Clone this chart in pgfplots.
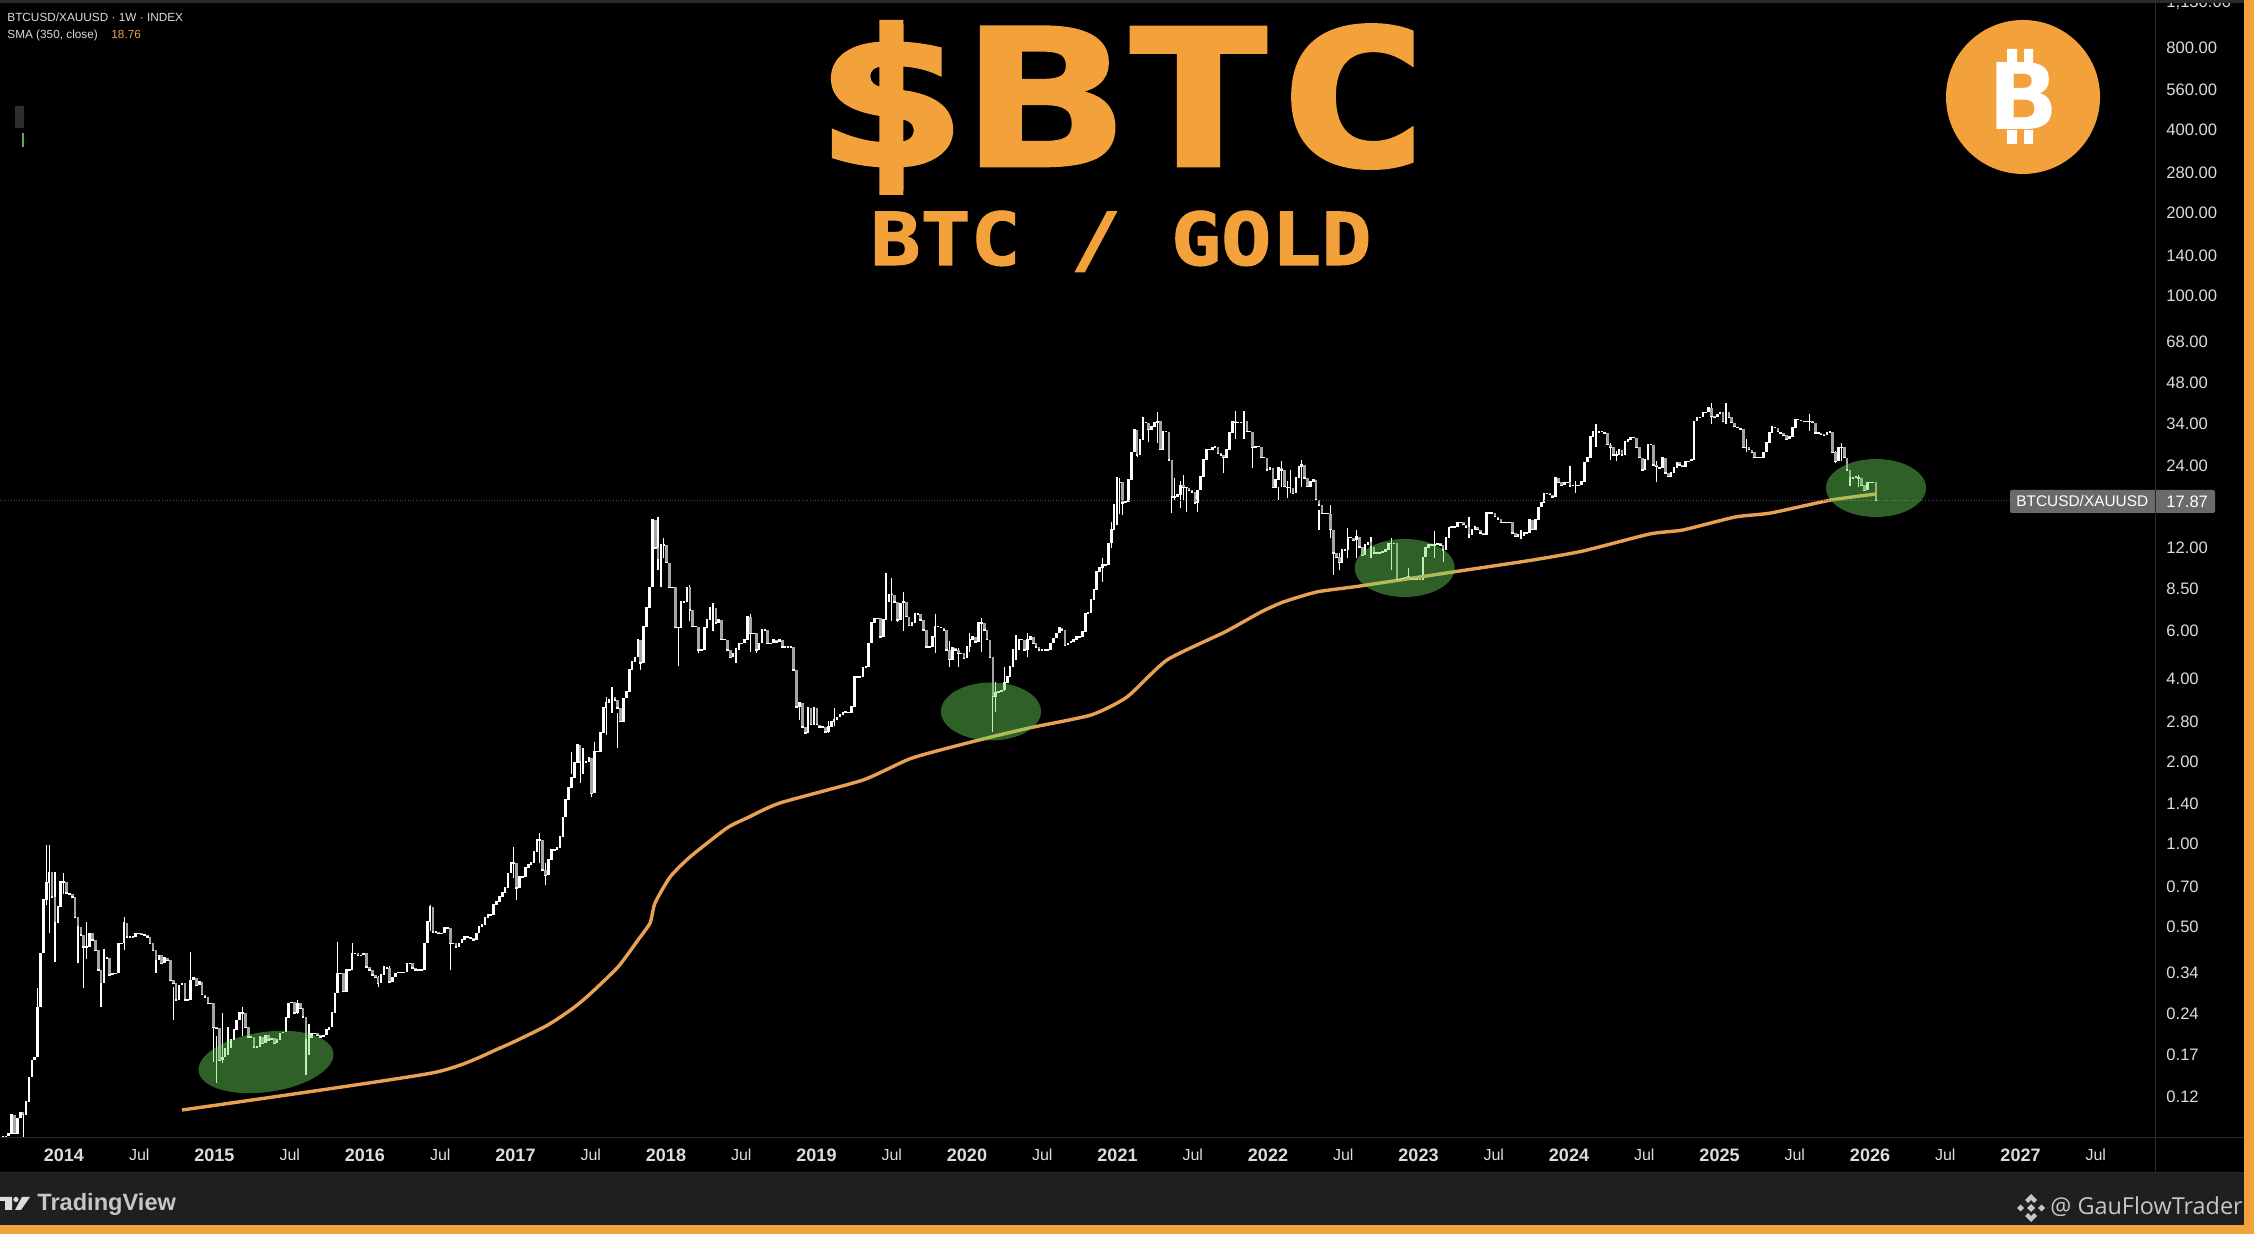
\documentclass[border=0pt]{standalone}
\usepackage{fontspec}
\usepackage{pgfplots}
\usepackage{pgfplotstable}
\pgfplotsset{compat=1.18}
\setmainfont{Liberation Sans}
\newfontfamily\djv{DejaVu Sans}
\newfontfamily\djmh[BoldFeatures={FakeBold=2.5}]{DejaVu Sans Mono}
\newfontfamily\djms[BoldFeatures={FakeBold=1.5}]{DejaVu Sans Mono}
\newfontfamily\opensans{Open Sans}
\definecolor{orangeb}{RGB}{242,161,59}
\definecolor{smaorange}{RGB}{232,160,84}
\definecolor{panel}{RGB}{30,31,31}
\definecolor{sep}{RGB}{42,42,42}
\definecolor{lab}{RGB}{220,220,220}
\definecolor{downc}{RGB}{165,165,165}
\definecolor{greenov}{RGB}{107,220,89}
\definecolor{tagc}{RGB}{106,106,106}
\newcommand\Y[1]{{\fontsize{9pt}{11pt}\selectfont\bfseries #1}}
\newcommand\J{{\fontsize{8pt}{10pt}\selectfont Jul}}

% weekly closes, 13 weeks on each line
\pgfplotstableread[row sep=\\]{
c\\
0.086\\0.086\\0.088\\0.103\\0.088\\0.100\\0.105\\0.103\\0.115\\0.141\\0.163\\0.167\\0.254\\
0.400\\0.625\\0.721\\0.790\\0.641\\0.515\\0.589\\0.727\\0.727\\0.663\\0.657\\0.641\\0.541\\
0.498\\0.466\\0.421\\0.421\\0.473\\0.447\\0.410\\0.347\\0.311\\0.384\\0.384\\0.333\\0.338\\
0.338\\0.435\\0.435\\0.515\\0.458\\0.458\\0.458\\0.473\\0.473\\0.469\\0.466\\0.458\\0.435\\
0.410\\0.377\\0.393\\0.367\\0.384\\0.377\\0.319\\0.311\\0.270\\0.305\\0.311\\0.270\\0.270\\
0.319\\0.325\\0.305\\0.314\\0.282\\0.277\\0.263\\0.263\\0.215\\0.213\\0.163\\0.167\\0.180\\
0.180\\0.193\\0.210\\0.228\\0.242\\0.242\\0.215\\0.198\\0.198\\0.182\\0.182\\0.198\\0.188\\
0.201\\0.193\\0.196\\0.188\\0.193\\0.204\\0.206\\0.232\\0.263\\0.265\\0.242\\0.263\\0.252\\
0.234\\0.193\\0.196\\0.204\\0.204\\0.201\\0.198\\0.201\\0.210\\0.215\\0.242\\0.286\\0.338\\
0.338\\0.289\\0.347\\0.347\\0.400\\0.400\\0.393\\0.393\\0.400\\0.356\\0.347\\0.333\\0.327\\
0.311\\0.333\\0.356\\0.353\\0.314\\0.327\\0.338\\0.341\\0.341\\0.341\\0.367\\0.367\\0.353\\
0.347\\0.347\\0.347\\0.435\\0.520\\0.589\\0.478\\0.478\\0.473\\0.473\\0.494\\0.494\\0.435\\
0.435\\0.421\\0.435\\0.447\\0.458\\0.458\\0.454\\0.447\\0.473\\0.498\\0.507\\0.537\\0.551\\
0.551\\0.599\\0.617\\0.641\\0.663\\0.691\\0.783\\0.852\\0.852\\0.691\\0.758\\0.758\\0.817\\
0.838\\0.852\\0.935\\1.034\\1.034\\0.804\\0.770\\0.874\\0.951\\0.951\\0.967\\1.06\\1.25\\
1.447\\1.60\\1.74\\1.98\\2.30\\1.99\\1.99\\1.99\\2.06\\1.53\\2.17\\2.17\\2.54\\
3.13\\3.27\\3.35\\3.44\\3.35\\3.13\\2.79\\3.40\\3.58\\4.31\\4.61\\4.80\\5.55\\
4.57\\6.19\\7.25\\8.62\\15.2\\12.0\\10.86\\12.3\\12.3\\10.6\\8.62\\8.62\\6.15\\
6.15\\7.62\\7.62\\8.62\\7.13\\6.19\\6.19\\5.10\\5.10\\6.15\\6.56\\7.25\\7.25\\
6.39\\6.56\\5.55\\5.55\\5.10\\4.80\\4.96\\5.10\\5.40\\5.40\\5.55\\6.73\\5.87\\
5.87\\5.10\\5.40\\6.03\\6.03\\5.40\\5.40\\5.55\\5.45\\5.55\\5.23\\5.23\\5.23\\
5.23\\4.31\\3.16\\3.27\\2.67\\2.54\\3.13\\2.72\\3.13\\2.72\\2.67\\2.67\\2.56\\
2.67\\2.79\\2.83\\2.90\\2.96\\3.01\\3.03\\3.01\\3.16\\4.06\\4.06\\4.06\\4.39\\
4.42\\5.40\\6.39\\6.66\\6.66\\5.68\\6.56\\7.62\\8.10\\8.10\\7.62\\6.56\\7.55\\
7.62\\6.73\\6.26\\6.39\\6.90\\6.90\\6.56\\6.03\\5.23\\5.23\\5.68\\6.19\\6.19\\
6.15\\6.03\\5.10\\4.69\\5.18\\5.10\\4.96\\4.96\\4.75\\5.23\\5.55\\5.68\\5.45\\
6.39\\6.39\\6.03\\5.55\\4.80\\3.44\\3.55\\3.58\\3.64\\3.87\\4.06\\4.42\\5.10\\
5.10\\5.55\\5.55\\5.10\\5.55\\5.68\\5.40\\5.23\\5.10\\5.10\\5.10\\5.10\\5.40\\
5.63\\5.87\\6.15\\6.03\\5.31\\5.40\\5.45\\5.55\\5.68\\5.68\\5.94\\6.90\\6.98\\
7.76\\8.44\\9.81\\10.15\\10.40\\10.40\\12.5\\13.97\\17.2\\20.8\\20.8\\17.5\\17.7\\
21.3\\26.8\\32.4\\26.2\\29.7\\34.3\\34.3\\32.4\\33.2\\34.3\\34.7\\27.4\\31.8\\
31.8\\25.1\\18.4\\18.4\\18.8\\20.3\\19.9\\19.9\\19.5\\19.2\\17.5\\19.5\\21.8\\
25.1\\27.4\\27.4\\27.9\\28.1\\26.6\\26.2\\25.6\\27.4\\31.5\\34.7\\34.3\\34.3\\
34.3\\34.7\\31.8\\31.8\\27.9\\28.1\\28.1\\25.6\\25.6\\23.1\\23.5\\19.9\\21.3\\
23.5\\23.1\\20.1\\19.9\\19.9\\19.0\\21.6\\23.7\\24.1\\21.6\\20.1\\20.9\\21.3\\
17.97\\17.2\\16.0\\16.0\\16.0\\14.0\\11.5\\11.1\\10.6\\11.8\\11.8\\13.1\\13.1\\
12.8\\13.2\\12.1\\11.3\\12.3\\12.6\\12.1\\11.5\\11.5\\11.5\\11.6\\11.8\\12.5\\
12.5\\12.5\\9.18\\9.18\\9.26\\9.34\\9.42\\9.26\\9.18\\9.18\\9.18\\11.1\\12.0\\
12.3\\12.3\\12.3\\12.5\\12.3\\11.8\\13.1\\14.2\\14.3\\14.3\\14.9\\14.9\\14.6\\
14.3\\13.4\\14.0\\14.3\\14.0\\13.6\\13.4\\16.1\\16.1\\16.1\\15.6\\15.3\\14.9\\
14.9\\14.9\\14.9\\13.6\\13.2\\13.4\\13.3\\13.6\\13.6\\15.2\\14.0\\15.2\\16.9\\
17.5\\19.0\\19.0\\18.8\\18.4\\21.6\\20.8\\20.3\\20.8\\20.8\\20.3\\20.3\\20.3\\
20.3\\20.9\\24.6\\25.6\\30.5\\31.8\\31.5\\31.8\\31.8\\31.5\\28.6\\27.9\\26.2\\
26.2\\27.4\\26.2\\29.2\\29.7\\30.3\\30.3\\27.9\\25.6\\23.1\\25.1\\28.6\\28.6\\
24.1\\23.7\\23.5\\25.6\\22.5\\21.8\\22.5\\23.5\\24.6\\24.1\\23.7\\24.8\\24.8\\
25.1\\34.7\\36.0\\36.0\\37.5\\37.5\\39.0\\36.3\\36.0\\36.8\\37.5\\34.7\\37.5\\
36.0\\34.3\\33.2\\32.9\\32.6\\27.9\\27.9\\27.4\\26.8\\25.6\\25.6\\25.6\\26.8\\
29.0\\31.5\\33.2\\32.9\\31.8\\31.5\\30.9\\29.9\\30.5\\32.9\\35.2\\35.2\\34.9\\
34.7\\34.7\\34.7\\34.3\\31.5\\31.5\\31.2\\30.9\\31.5\\31.8\\26.8\\24.8\\27.9\\
27.9\\25.6\\23.1\\21.6\\21.6\\21.8\\21.6\\20.3\\19.5\\20.8\\20.8\\20.8\\17.87\\
}\bars
\gdef\prevc{0.086}
\pgfplotstablecreatecol[create col/assign/.code={%
  \pgfkeyslet{/pgfplots/table/create col/next content}\prevc
  \getthisrow{c}{\cur}\global\let\prevc\cur}]{o}\bars

% long wicks: week number, low, high
\pgfplotstableread{
i l h
7 0.085 0.103
12 0.17 0.298
15 0.6 0.992
16 0.473 0.992
18 0.37 0.79
21 0.66 0.784
26 0.367 0.5
28 0.298 0.42
29 0.38 0.52
34 0.254 0.33
35 0.35 0.414
42 0.41 0.541
53 0.338 0.39
59 0.228 0.3
65 0.3 0.404
73 0.16 0.244
74 0.135 0.2
76 0.159 0.242
78 0.17 0.215
83 0.2 0.254
102 0.24 0.27
105 0.144 0.22
106 0.17 0.22
116 0.3 0.44
121 0.36 0.435
130 0.30 0.33
134 0.311 0.36
148 0.48 0.599
155 0.347 0.45
177 0.75 0.975
178 0.625 0.72
186 0.85 1.10
188 0.71 0.85
197 1.8 2.17
200 1.67 2.1
201 1.8 2.24
204 1.48 1.9
205 1.8 2.35
209 2.5 3.44
211 3.0 3.73
213 2.24 3.0
221 4.31 5.5
227 10 15.6
228 8.62 11
229 11 13.0
234 4.47 6.2
238 6.5 8.8
241 4.96 6
246 6 7.55
254 4.57 5.2
259 5 6.9
261 4.96 5.5
276 2.83 3.3
286 2.54 2.8
288 2.7 3.13
306 7 9.74
308 6.5 9.3
310 6.46 7.5
312 6 8.3
323 4.96 6.9
328 4.42 5.5
331 4.42 5.2
335 5 5.87
339 5 6.66
343 2.56 3.6
344 3.03 3.9
347 3.6 4.42
351 4.7 5.78
355 4.8 5.87
381 9 11.0
384 12 14.9
386 14.6 21.8
387 16 21.6
388 15.8 18.5
393 25.8 31
395 30 36
397 29.2 34
400 29 37.5
405 16.1 20
406 18 21.6
408 16.8 21
409 18 22.2
410 16.2 20
414 16.2 18
423 22.5 26
427 30 37.8
430 30 37.8
433 23.5 28
442 18 20
443 20 24.8
445 18.2 21
446 19 23.1
450 20 25.1
456 14 16.5
460 13 17.2
461 9.6 12
463 10 11.5
466 11 14.2
469 11 14
474 11 13.2
481 10 13.1
487 9.2 10.15
496 11 13.8
499 10.7 11.8
508 13 15.5
526 12.9 14
543 20 23.9
545 19 21
552 28 33.9
557 25.1 29
559 24.8 27
573 20.9 25
592 34 40.6
597 34 40.6
604 26.8 30
626 32 37
635 24.5 27
637 25 29
640 20.2 23
643 20 22.2
}\wicks

\pgfplotstableread{
x v
2014.784 0.1072
2016.445 0.1463
2016.897 0.1804
2017.203 0.2170
2017.375 0.2503
2017.488 0.2815
2017.681 0.3561
2017.814 0.4467
2017.894 0.5152
2017.927 0.6093
2018.027 0.758
2018.159 0.8966
2018.405 1.144
2018.538 1.244
2018.757 1.411
2019.309 1.711
2019.635 2.058
2020.080 2.394
2020.412 2.648
2020.824 2.953
2021.063 3.435
2021.329 4.687
2021.714 5.93
2021.953 7.01
2022.100 7.62
2022.326 8.30
2022.611 8.72
2023.229 9.81
2023.761 10.85
2024.093 11.70
2024.538 13.50
2024.757 13.96
2025.103 15.56
2025.342 16.10
2025.741 17.95
2026.040 18.88
}\sma

\begin{document}
\begin{tikzpicture}[x=0.5pt,y=0.5pt]
\useasboundingbox (0,0) rectangle (2254,1234);
\clip (0,0) rectangle (2254,1234);
\fill[black] (0,0) rectangle (2254,1234);
\begin{axis}[
  at={(0pt,48pt)}, anchor=south west,
  scale only axis, width=1077.5pt, height=569pt,
  xmin=2013.5748, xmax=2027.8937,
  ymode=log, ymin=0.08477, ymax=1193.9,
  axis line style={draw=none}, tick style={draw=none},
  axis x line*=bottom, axis y line*=right,
  xtick={2014,2014.5,2015,2015.5,2016,2016.5,2017,2017.5,2018,2018.5,2019,2019.5,2020,2020.5,2021,2021.5,2022,2022.5,2023,2023.5,2024,2024.5,2025,2025.5,2026,2026.5,2027,2027.5},
  xticklabels={\Y{2014},\J,\Y{2015},\J,\Y{2016},\J,\Y{2017},\J,\Y{2018},\J,\Y{2019},\J,\Y{2020},\J,\Y{2021},\J,\Y{2022},\J,\Y{2023},\J,\Y{2024},\J,\Y{2025},\J,\Y{2026},\J,\Y{2027},\J},
  ytick={1170,800,560,400,280,200,140,100,68,48,34,24,12,8.5,6,4,2.8,2,1.4,1,0.7,0.5,0.34,0.24,0.17,0.12},
  yticklabels={{1,130.00},800.00,560.00,400.00,280.00,200.00,140.00,100.00,68.00,48.00,34.00,24.00,12.00,8.50,6.00,4.00,2.80,2.00,1.40,1.00,0.70,0.50,0.34,0.24,0.17,0.12},
  yticklabel style={anchor=west,inner sep=0pt,xshift=5.5pt,font=\fontsize{8.3pt}{10pt}\selectfont,text=lab},
  xticklabel style={anchor=center,inner sep=0pt,yshift=-8.5pt,text=lab},
]
\addplot[draw=none,mark=none,forget plot,error bars/.cd,y dir=plus,y explicit,error mark=none,error bar style={line width=0.6pt,white}]
  table[x expr=2013.5947+0.019176*\thisrow{i},y=l,y error plus expr=\thisrow{h}-\thisrow{l}] {\wicks};
\addplot[draw=none,mark=none,forget plot,error bars/.cd,y dir=plus,y explicit,error mark=none,error bar style={line width=1.3pt,downc}]
  table[x expr=2013.5947+0.019176*\coordindex,y=c,y error plus expr={max(\thisrow{o}-\thisrow{c},0)}] {\bars};
\addplot[draw=none,mark=none,forget plot,error bars/.cd,y dir=minus,y explicit,error mark=none,error bar style={line width=1.3pt,white}]
  table[x expr=2013.5947+0.019176*\coordindex,y=c,y error minus expr={max(\thisrow{c}-\thisrow{o},0)}] {\bars};
\addplot[only marks,mark=-,mark size=0.65pt,mark options={white,line width=0.6pt},forget plot]
  table[x expr=2013.5947+0.019176*\coordindex,y=c] {\bars};
\addplot[smaorange,line width=1.7pt,line join=round,mark=none,smooth,tension=0.35] table[x=x,y=v] {\sma};
\addplot[densely dotted,color=white!30!black,line width=0.35pt,mark=none] coordinates {(2013.5748,17.87)(2026.93,17.87)};
\end{axis}
% green highlights
\begin{scope}[fill=greenov,fill opacity=0.44]
\fill[rotate around={8:(266,172)}] (266,172) ellipse [x radius=68,y radius=30];
\fill (991,522.5) ellipse [x radius=50,y radius=29];
\fill (1404.7,666) ellipse [x radius=50,y radius=29];
\fill (1876,746) ellipse [x radius=50,y radius=29];
\end{scope}
% frame
\fill[sep] (0,1231) rectangle (2254,1234);
\fill[sep] (2154.5,61) rectangle (2155.5,1231);
\fill[sep] (0,95.5) rectangle (2244,96.5);
\fill[panel] (0,9) rectangle (2244,61);
\fill[sep] (0,60.5) rectangle (2244,61.5);
\fill[orangeb] (0,0) rectangle (2254,9);
\fill[orangeb] (2244,0) rectangle (2254,1234);
% price tag
\fill[tagc,rounded corners=1pt] (2010,721) rectangle (2215,744);
\fill[black!60!tagc] (2154.6,721) rectangle (2155.4,744);
\node[anchor=west,inner sep=0pt,white,font=\fontsize{7.7pt}{9pt}\selectfont] at (2016,732.5) {BTCUSD/XAUUSD};
\node[anchor=west,inner sep=0pt,white,font=\fontsize{8.3pt}{10pt}\selectfont] at (2166,732.5) {17.87};
% titles
\node[anchor=base,inner sep=0pt,text=orangeb] at (1121.5,1069) {\scalebox{1.36}[1]{\fontsize{94pt}{100pt}\selectfont\djmh\bfseries \$BTC}};
\node[anchor=base,inner sep=0pt,text=orangeb] at (1121,969) {\scalebox{1.14}[1]{\fontsize{36.5pt}{40pt}\selectfont\djms\bfseries BTC / GOLD}};
% bitcoin logo
\fill[orangeb] (2023,1137) circle [radius=77];
\node[anchor=base,inner sep=0pt,white] at (2024,1104) {\fontsize{46pt}{50pt}\selectfont\djv\bfseries B};
\fill[white] (2007,1171) rectangle (2017,1185) (2024,1171) rectangle (2033,1185) (2007,1090) rectangle (2017,1104) (2024,1090) rectangle (2033,1104);
% header
\node[anchor=base west,inner sep=0pt,text=lab,font=\fontsize{5.9pt}{7pt}\selectfont] at (7,1212) {BTCUSD/XAUUSD · 1W · INDEX};
\node[anchor=base west,inner sep=0pt,text=lab,font=\fontsize{5.9pt}{7pt}\selectfont] at (7,1195) {SMA (350, close)};
\node[anchor=base west,inner sep=0pt,text=smaorange,font=\fontsize{5.9pt}{7pt}\selectfont] at (111,1195) {18.76};
\fill[black!82!white,rounded corners=0.5pt] (15,1106) rectangle (24,1128);
\fill[greenov!80!black] (21.5,1087) rectangle (23.5,1101);
% footer
\fill[lab] (0,37) rectangle (12,33) (5,37) rectangle (12,24);
\fill[lab] (16,34.5) circle [radius=2.6];
\fill[lab] (22,37) -- (30,37) -- (21,24) -- (15,24) -- cycle;
\node[anchor=west,inner sep=0pt,text=lab!90!black,font=\fontsize{11.8pt}{14pt}\selectfont\bfseries] at (37,30) {TradingView};
\node[anchor=west,inner sep=0pt,text=lab!90!black,font=\fontsize{11.7pt}{14pt}\selectfont\opensans] at (2050,27) {@ GauFlowTrader};
\fill[orangeb] (2244,0) rectangle (2254,61);
\fill[lab!90!black] (2031,40) -- (2037,34) -- (2034,31) -- (2031,34) -- (2028,31) -- (2025,34) -- cycle
  (2031,12) -- (2037,18) -- (2034,21) -- (2031,18) -- (2028,21) -- (2025,18) -- cycle
  (2031,30) -- (2035,26) -- (2031,22) -- (2027,26) -- cycle
  (2017,26) -- (2020.5,29.5) -- (2024,26) -- (2020.5,22.5) -- cycle
  (2045,26) -- (2041.5,29.5) -- (2038,26) -- (2041.5,22.5) -- cycle;
\end{tikzpicture}
\end{document}
